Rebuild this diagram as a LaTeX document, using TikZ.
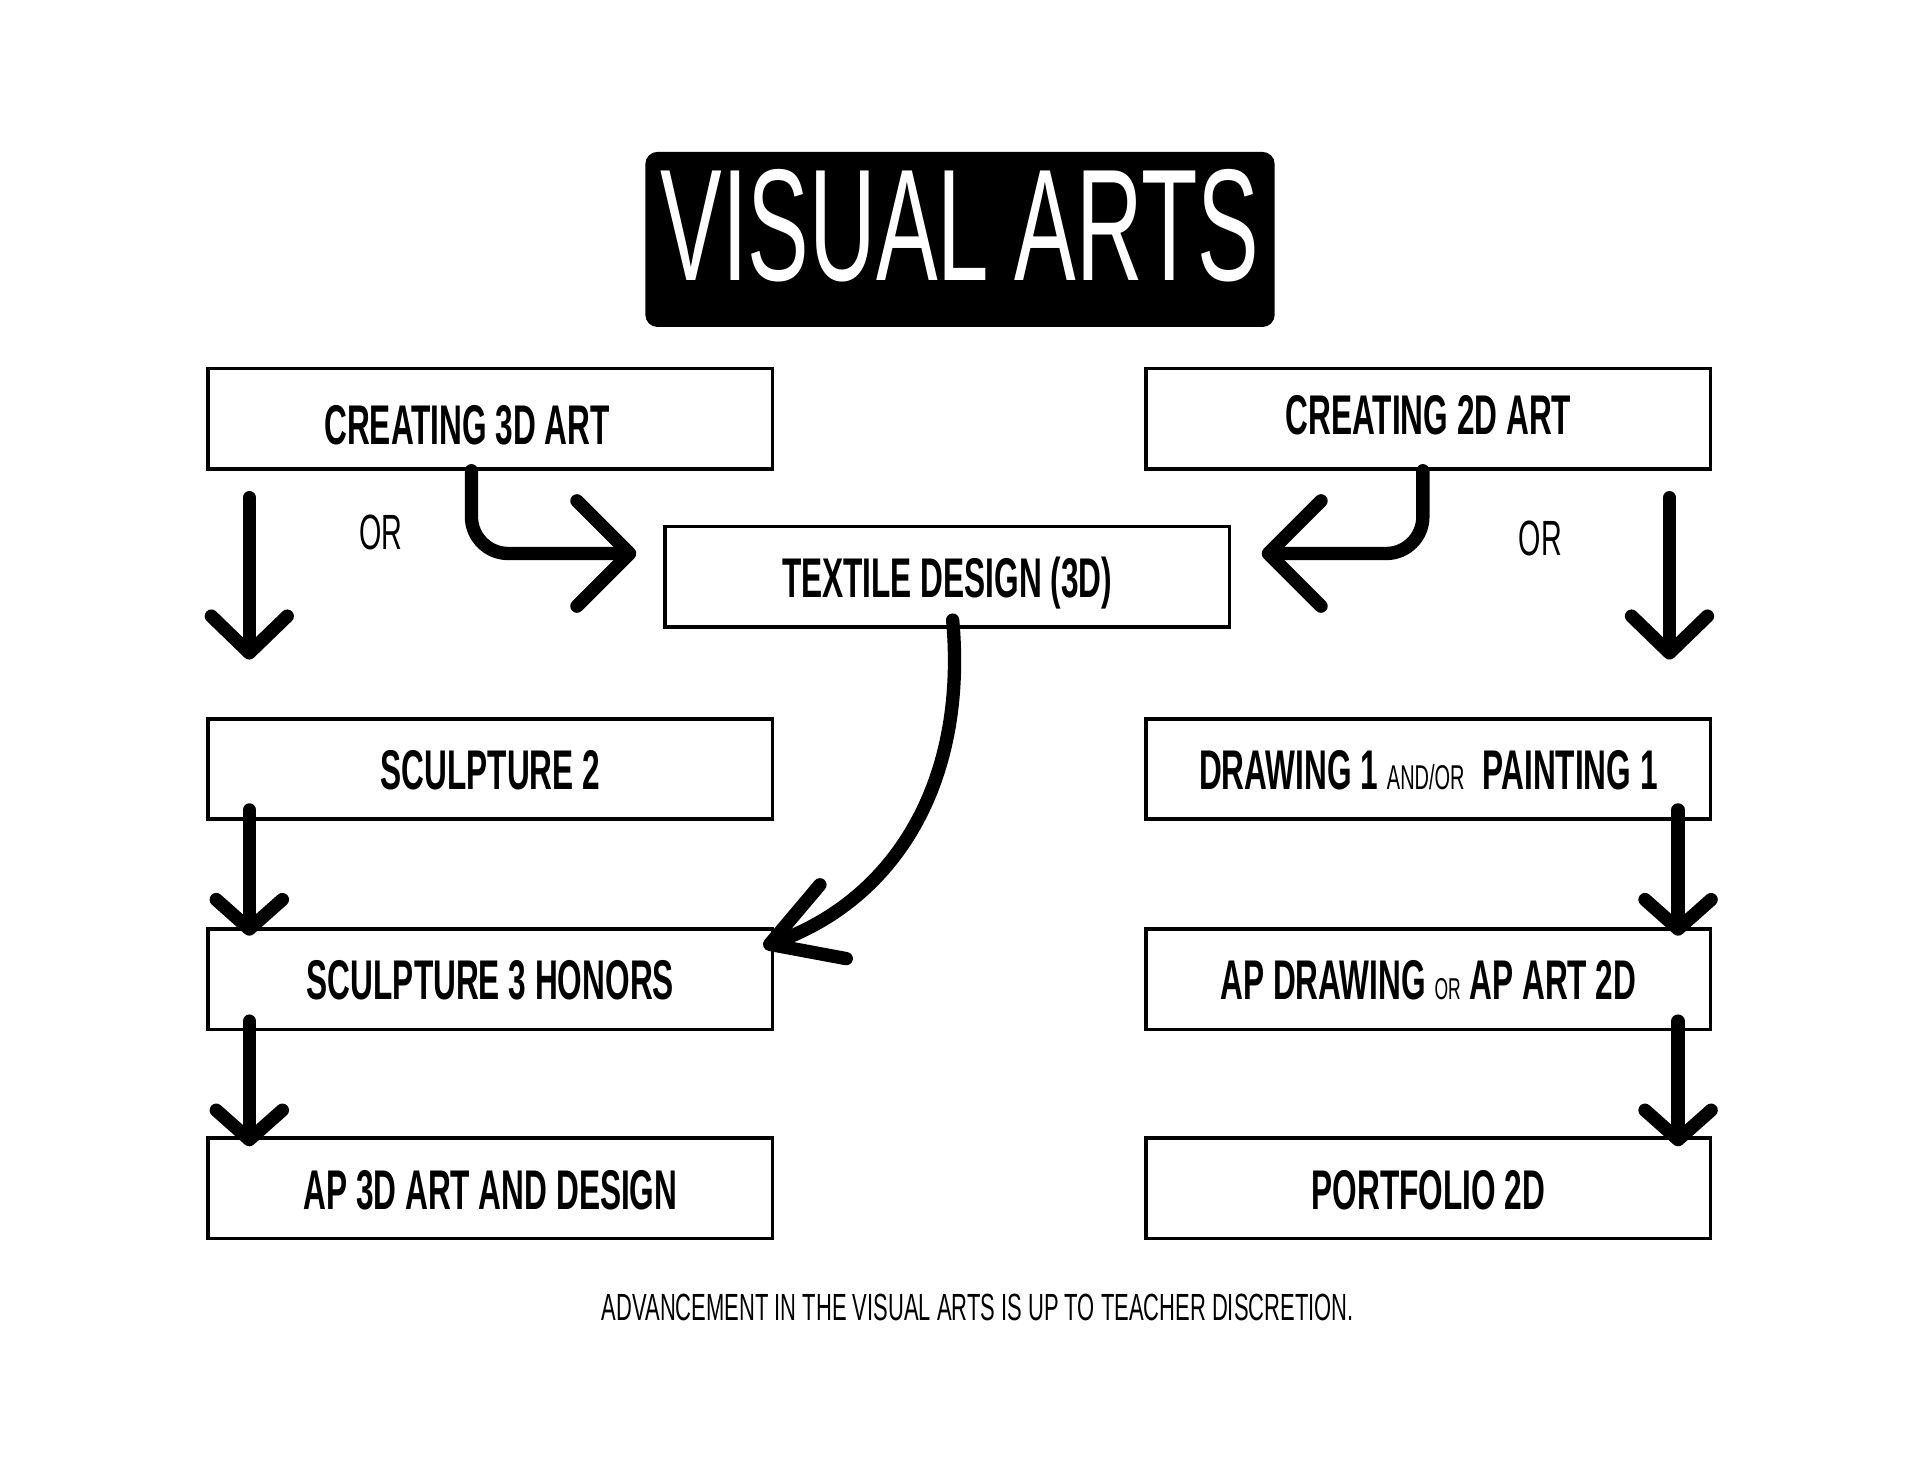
\documentclass[tikz,border=0pt]{standalone}
\usepackage{fontspec}
\usetikzlibrary{arrows.meta}
\newfontfamily\bebas[FakeStretch=0.565]{Liberation Sans}
\newfontfamily\bebaslight[FakeStretch=0.58]{Liberation Sans}
\newcommand{\boxfont}{\bebas\bfseries\fontsize{13}{15}\selectfont}
\newcommand{\tinyword}[2]{{\bebaslight\mdseries\fontsize{#1}{9}\selectfont #2}}
\tikzset{
  course/.style={draw, line width=.8pt, minimum width=4.61cm, minimum height=.82cm,
    inner sep=0pt, text height=.34cm, text depth=0pt, font=\boxfont},
  flow/.style={line width=3.1pt, line cap=round, line join=round,
    -{Straight Barb[round,length=.3cm,width=.62cm]}},
  step flow/.style={flow, -{Straight Barb[round,length=.24cm,width=.54cm]}}
}
\begin{document}
\begin{tikzpicture}
	\useasboundingbox (0,0) rectangle (15.68,-12.11);
	% title
	\node [fill=black, rounded corners=.1cm, minimum width=5.14cm, minimum height=1.43cm,
	  text=white, text height=.9cm, text depth=.23cm, inner sep=0pt,
	  font=\bebaslight\fontsize{37}{42}\selectfont] (title) at (7.84,-1.955) {VISUAL ARTS};
	
	% 3d side
	\node [course] (c3d) at (4.005,-3.42) {\raisebox{-.04cm}{CREATING 3D ART}\hspace*{.38cm}};
	\node [course] (tex) at (7.735,-4.71) {TEXTILE DESIGN (3D)};
	\node [course] (s2) at (4.005,-6.28) {SCULPTURE 2};
	\node [course] (s3) at (4.005,-7.995) {SCULPTURE 3 HONORS};
	\node [course] (ap3) at (4.005,-9.705) {AP 3D ART AND DESIGN};
	
	% 2d side
	\node [course] (c2d) at (11.665,-3.42) {\raisebox{.04cm}{CREATING 2D ART}};
	\node [course] (d1) at (11.665,-6.28) {DRAWING 1 \tinyword{8}{AND/OR} \,PAINTING 1};
	\node [course] (apd) at (11.665,-7.995) {AP DRAWING \tinyword{7}{OR} AP ART 2D};
	\node [course] (p2d) at (11.665,-9.705) {PORTFOLIO 2D};
	
	\node [font=\bebaslight\fontsize{11.5}{13}\selectfont] (orl) at (3.11,-4.35) {OR};
	\node [font=\bebaslight\fontsize{11.5}{13}\selectfont] (orr) at (12.58,-4.4) {OR};
	
	\node [font=\bebaslight\fontsize{8.8}{10}\selectfont] (note) at (7.985,-10.68)
	  {ADVANCEMENT IN THE VISUAL ARTS IS UP TO TEACHER DISCRETION.};
	
	% arrows
	\draw [flow] ([xshift=.35cm,yshift=-.22cm]c3d.south west) -- ([xshift=.35cm,yshift=.47cm]s2.north west);
	\draw [flow] ([xshift=-.35cm,yshift=-.22cm]c2d.south east) -- ([xshift=-.35cm,yshift=.47cm]d1.north east);
	\draw [flow, rounded corners=.3cm, -{Straight Barb[round,length=.43cm,width=.86cm]}]
	  ([xshift=-.155cm]c3d.south) |- ([xshift=-.22cm,yshift=.19cm]tex.west);
	\draw [flow, rounded corners=.3cm, -{Straight Barb[round,length=.43cm,width=.86cm]}]
	  ([xshift=-.045cm]c2d.south) |- ([xshift=.25cm,yshift=.19cm]tex.east);
	\draw [flow, -{Straight Barb[round,length=.55cm,width=.64cm]}]
	  ([xshift=.045cm,yshift=.07cm]tex.south) .. controls (7.9,-6.4) and (7.3,-7.35) .. ([xshift=-.09cm,yshift=.265cm]s3.east);
	
	\draw [step flow] ([xshift=.35cm,yshift=.09cm]s2.south west) -- ([xshift=.35cm,yshift=-.07cm]s3.north west);
	\draw [step flow] ([xshift=.35cm,yshift=.08cm]s3.south west) -- ([xshift=.35cm,yshift=-.08cm]ap3.north west);
	\draw [step flow] ([xshift=-.28cm,yshift=.09cm]d1.south east) -- ([xshift=-.28cm,yshift=-.07cm]apd.north east);
	\draw [step flow] ([xshift=-.28cm,yshift=.08cm]apd.south east) -- ([xshift=-.28cm,yshift=-.08cm]p2d.north east);
\end{tikzpicture}
\end{document}
